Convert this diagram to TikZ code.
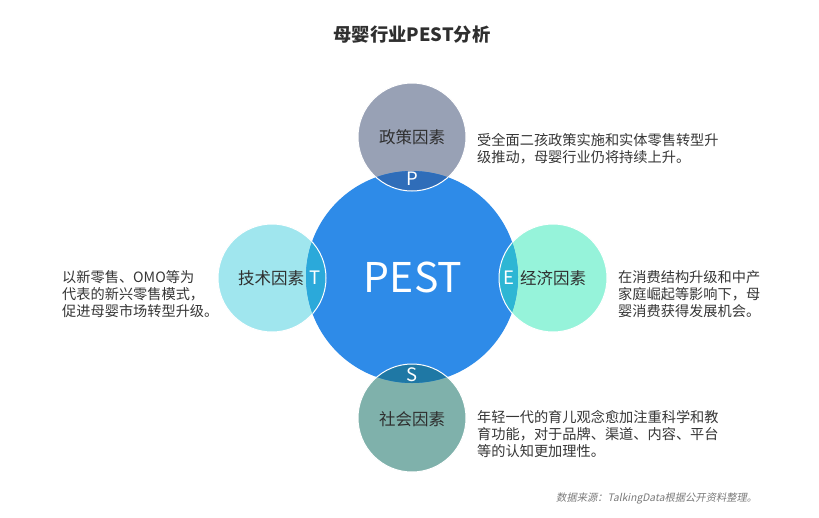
\documentclass[tikz,border=0pt]{standalone}
\usepackage{fontspec}
\setmainfont{Noto Sans CJK SC}
\newfontfamily\srcfont{Noto Sans CJK SC}[FakeSlant=0.2]
\definecolor{bigblue}{HTML}{2E8BE8}
\definecolor{topgray}{HTML}{98A1B5}
\definecolor{toplens}{HTML}{2F6DB9}
\definecolor{leftcyan}{HTML}{A0E6EE}
\definecolor{leftlens}{HTML}{2BA9DA}
\definecolor{rightmint}{HTML}{96F3DA}
\definecolor{rightlens}{HTML}{2DB6D4}
\definecolor{botteal}{HTML}{7FB1AB}
\definecolor{botlens}{HTML}{1F78A5}
\definecolor{lbltext}{HTML}{2F2F2F}
\definecolor{bodytext}{HTML}{363636}
\definecolor{srctext}{HTML}{7A7A7A}
\begin{document}
\begin{tikzpicture}[x=1pt,y=-1pt,
  smallc/.style={draw=white, line width=1pt},
  lbl/.style={inner sep=0pt, text=lbltext, font=\fontsize{16.5}{18}\selectfont},
  ltr/.style={inner sep=0pt, text=white, font=\fontsize{18.5}{20}\selectfont},
  body/.style={inner sep=0pt, anchor=west, align=left, text=bodytext, font=\fontsize{14.2}{17}\selectfont}]
\useasboundingbox[fill=white] (0,0) rectangle (819,517);
\coordinate (c) at (412,277);
\coordinate (cp) at (412,137);
\coordinate (ct) at (272,278);
\coordinate (ce) at (553,278);
\coordinate (cs) at (412,418);
% small circles
\fill[topgray, smallc] (cp) circle[radius=54pt];
\fill[leftcyan, smallc] (ct) circle[radius=54pt];
\fill[rightmint, smallc] (ce) circle[radius=54pt];
\fill[botteal, smallc] (cs) circle[radius=54pt];
% big circle
\fill[bigblue] (c) circle[radius=106pt];
% lenses
\begin{scope}
  \clip (c) circle[radius=106pt];
  \fill[toplens, smallc] (cp) circle[radius=54pt];
  \fill[leftlens, smallc] (ct) circle[radius=54pt];
  \fill[rightlens, smallc] (ce) circle[radius=54pt];
  \fill[botlens, smallc] (cs) circle[radius=54pt];
\end{scope}
% title
\node[inner sep=0pt, text=lbltext, font=\fontsize{18.3}{20}\selectfont\bfseries] (title) at (412,35) {母婴行业PEST分析};
% center
\node[inner sep=0pt, text=white, font=\fontsize{41}{44}\selectfont] (pest) at (413,277) {PEST};
% circle labels
\node[lbl] (lp) at (412,137) {政策因素};
\node[lbl] (lt) at (271,278) {技术因素};
\node[lbl] (le) at (553,278) {经济因素};
\node[lbl] (ls) at (412,419) {社会因素};
% lens letters
\node[ltr] (np) at (412,179) {P};
\node[ltr] (nt) at (315,278) {T};
\node[ltr] (ne) at (509,278) {E};
\node[ltr] (ns) at (412,375) {S};
% descriptions
\node[body] (dp) at (477,149) {受全面二孩政策实施和实体零售转型升\\级推动，母婴行业仍将持续上升。};
\node[body] (dt) at (62,294) {以新零售、OMO等为\\代表的新兴零售模式，\\促进母婴市场转型升级。};
\node[body] (de) at (618,294) {在消费结构升级和中产\\家庭崛起等影响下，母\\婴消费获得发展机会。};
\node[body] (ds) at (477,434) {年轻一代的育儿观念愈加注重科学和教\\育功能，对于品牌、渠道、内容、平台\\等的认知更加理性。};
% source
\node[inner sep=0pt, anchor=west, text=srctext, font=\srcfont\fontsize{10.3}{12}\selectfont] (src) at (556,498) {数据来源：TalkingData根据公开资料整理。};
\end{tikzpicture}
\end{document}
